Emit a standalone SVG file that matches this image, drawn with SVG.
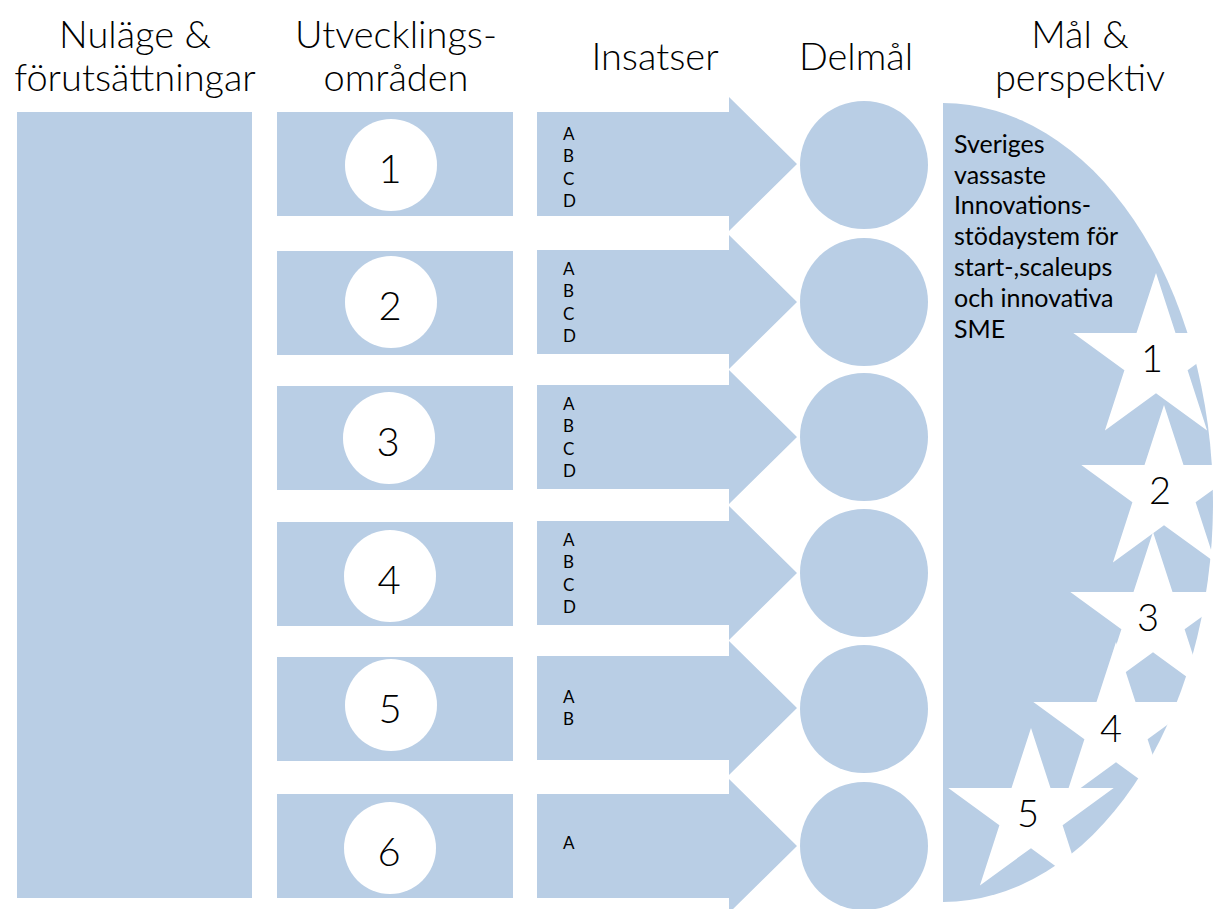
<svg xmlns="http://www.w3.org/2000/svg" xmlns:xlink="http://www.w3.org/1999/xlink" width="1215" height="909" viewBox="0 0 1215 909">
  <style>
    .fill { fill: #B9CEE5; }
    .white { fill: #FFFFFF; }
    text { font-family: Lato, "Open Sans", "Liberation Sans", sans-serif; font-weight: 300; fill: #000000; }
    .head { font-size: 38px; text-anchor: middle; }
    .num { font-size: 40px; text-anchor: middle; }
    .star-num { font-size: 38px; text-anchor: middle; }
    .abc { font-size: 17px; font-weight: 400; }
    .goal-text { font-size: 25px; font-weight: 400; }
  </style>
  <defs>
    <!-- block arrow centred on y = 0 -->
    <polygon id="arrow" points="537,-52 729,-52 729,-67 797,0 729,67 729,52 537,52"/>
    <!-- five-point star, outer radius 87, centred on origin -->
    <polygon id="star" points="0,-87 19.5,-26.9 82.7,-26.9 31.6,10.3 51.1,70.4 0,33.2 -51.1,70.4 -31.6,10.3 -82.7,-26.9 -19.5,-26.9"/>
  </defs>

  <rect width="1215" height="909" fill="#FFFFFF"/>

  <!-- column headings -->
  <g id="headings">
    <text class="head" x="135" y="48">Nuläge &amp;</text>
    <text class="head" x="135" y="91">förutsättningar</text>
    <text class="head" x="396" y="48">Utvecklings-</text>
    <text class="head" x="396" y="91">områden</text>
    <text class="head" x="655" y="70">Insatser</text>
    <text class="head" x="856" y="70">Delmål</text>
    <text class="head" x="1080" y="48">Mål &amp;</text>
    <text class="head" x="1080" y="91">perspektiv</text>
  </g>

  <!-- current state column -->
  <g id="nulage">
    <rect class="fill" x="17" y="112" width="235" height="786"/>
  </g>

  <!-- development areas -->
  <g id="area-1"><rect class="fill" x="277" y="112" width="236" height="104"/><circle class="white" cx="391" cy="165" r="46"/><text class="num" x="390" y="183">1</text></g>
  <g id="area-2"><rect class="fill" x="277" y="251" width="236" height="104"/><circle class="white" cx="391" cy="302" r="46"/><text class="num" x="390" y="320">2</text></g>
  <g id="area-3"><rect class="fill" x="277" y="386" width="236" height="104"/><circle class="white" cx="389" cy="438" r="46"/><text class="num" x="388" y="456">3</text></g>
  <g id="area-4"><rect class="fill" x="277" y="522" width="236" height="104"/><circle class="white" cx="390" cy="576" r="46"/><text class="num" x="389" y="594">4</text></g>
  <g id="area-5"><rect class="fill" x="277" y="657" width="236" height="104"/><circle class="white" cx="391" cy="705" r="46"/><text class="num" x="390" y="723">5</text></g>
  <g id="area-6"><rect class="fill" x="277" y="794" width="236" height="104"/><circle class="white" cx="390" cy="848" r="46"/><text class="num" x="389" y="866">6</text></g>

  <!-- actions (block arrows) -->
  <g id="insats-1"><use xlink:href="#arrow" class="fill" transform="translate(0,164)"/>
    <text class="abc" x="563" y="140">A</text><text class="abc" x="563" y="162">B</text><text class="abc" x="563" y="185">C</text><text class="abc" x="563" y="207">D</text></g>
  <g id="insats-2"><use xlink:href="#arrow" class="fill" transform="translate(0,302)"/>
    <text class="abc" x="563" y="275">A</text><text class="abc" x="563" y="297">B</text><text class="abc" x="563" y="320">C</text><text class="abc" x="563" y="342">D</text></g>
  <g id="insats-3"><use xlink:href="#arrow" class="fill" transform="translate(0,437)"/>
    <text class="abc" x="563" y="410">A</text><text class="abc" x="563" y="432">B</text><text class="abc" x="563" y="455">C</text><text class="abc" x="563" y="477">D</text></g>
  <g id="insats-4"><use xlink:href="#arrow" class="fill" transform="translate(0,573)"/>
    <text class="abc" x="563" y="546">A</text><text class="abc" x="563" y="568">B</text><text class="abc" x="563" y="591">C</text><text class="abc" x="563" y="613">D</text></g>
  <g id="insats-5"><use xlink:href="#arrow" class="fill" transform="translate(0,708)"/>
    <text class="abc" x="563" y="703">A</text><text class="abc" x="563" y="725">B</text></g>
  <g id="insats-6"><use xlink:href="#arrow" class="fill" transform="translate(0,846)"/>
    <text class="abc" x="563" y="849">A</text></g>

  <!-- sub-goals -->
  <g id="delmal-1"><circle class="fill" cx="864" cy="165" r="64"/></g>
  <g id="delmal-2"><circle class="fill" cx="864" cy="302" r="64"/></g>
  <g id="delmal-3"><circle class="fill" cx="864" cy="437" r="64"/></g>
  <g id="delmal-4"><circle class="fill" cx="864" cy="573" r="64"/></g>
  <g id="delmal-5"><circle class="fill" cx="864" cy="709" r="64"/></g>
  <g id="delmal-6"><circle class="fill" cx="864" cy="846" r="64"/></g>

  <!-- goal and perspective: half ellipse with stars -->
  <g id="goal">
    <path class="fill" d="M943,103 A270,399.5 0 0 1 943,902 Z"/>
    <text class="goal-text">
      <tspan x="954" y="153">Sveriges</tspan>
      <tspan x="954" y="184">vassaste</tspan>
      <tspan x="954" y="214">Innovations-</tspan>
      <tspan x="954" y="245">stödaystem för</tspan>
      <tspan x="954" y="276">start-,scaleups</tspan>
      <tspan x="954" y="307">och innovativa</tspan>
      <tspan x="954" y="338">SME</tspan>
    </text>
    <g id="star-1"><use xlink:href="#star" class="white" transform="translate(1156,360)"/><text class="star-num" x="1152" y="372">1</text></g>
    <g id="star-2"><use xlink:href="#star" class="white" transform="translate(1164,492)"/><text class="star-num" x="1160" y="504">2</text></g>
    <g id="star-3"><use xlink:href="#star" class="white" transform="translate(1153,619)"/><text class="star-num" x="1148" y="631">3</text></g>
    <g id="star-4"><use xlink:href="#star" class="white" transform="translate(1116,729)"/><text class="star-num" x="1111" y="742">4</text></g>
    <g id="star-5"><use xlink:href="#star" class="white" transform="translate(1031,815)"/><text class="star-num" x="1028" y="827">5</text></g>
  </g>
</svg>
